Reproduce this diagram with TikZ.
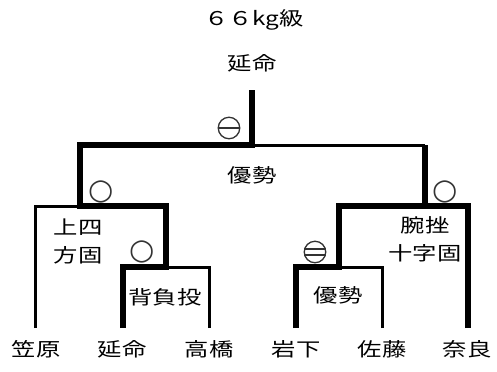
\documentclass[tikz,border=0pt]{standalone}
\usepackage{fontspec}
\newfontfamily\jp[FakeStretch=1.28]{Noto Sans CJK JP}
\newfontfamily\sym{DejaVu Sans}
\begin{document}
\begin{tikzpicture}[x=1bp,y=-1bp,
  thinline/.style={line width=3bp},
  thickline/.style={line width=6.5bp},
  lbl/.style={font=\jp\fontsize{19bp}{28bp}\selectfont, inner sep=0pt, align=center},
  mk/.style={font=\sym\fontsize{29bp}{29bp}\selectfont, inner sep=0pt, text=black!80},
  ring/.style={circle, draw=black!80, line width=1.3bp, minimum size=21.5bp, inner sep=0pt},
  bar/.style={draw=black!80, line width=1.3bp}]
\useasboundingbox (0,0) rectangle (497,371);
% bracket points
\coordinate (b1) at (35,328);
\coordinate (b2) at (123,328);
\coordinate (b3) at (209,328);
\coordinate (b4) at (296,328);
\coordinate (b5) at (382,328);
\coordinate (b6) at (468,328);
\coordinate (m1) at (166,267);
\coordinate (m2) at (339,267);
\coordinate (s1) at (80,206);
\coordinate (s2) at (425,206);
\coordinate (f) at (252,145);
\coordinate (f2) at (425,145);
\coordinate (champ) at (252,90);
% thin lines
\draw[thinline] (b1) |- (s1);
\draw[thinline] (b3) |- (m1);
\draw[thinline] (b5) |- (m2);
\draw[thinline] (f) -- (f2);
% thick lines
\draw[thickline] (b2) |- (m1) |- (s1) |- (f) -- (champ);
\draw[thickline] (b4) |- (m2) |- (s2);
\draw[thickline] (b6) |- (s2) -- (f2);
% names
\node[lbl] (n1) at (36,349) {笠原};
\node[lbl] (n2) at (122,349) {延命};
\node[lbl] (n3) at (209,349) {高橋};
\node[lbl] (n4) at (296,349) {岩下};
\node[lbl] (n5) at (382,349) {佐藤};
\node[lbl] (n6) at (467,349) {奈良};
% titles
\node[lbl] (title) at (254,20) {６６kg級};
\node[lbl] (win) at (252,63) {延命};
% results
\node[lbl] (r0) at (252,175) {優勢};
\node[lbl] (r1) at (78,241) {上四\\方固};
\node[lbl] (r2) at (165,297) {背負投};
\node[lbl] (r3) at (425,239) {腕挫\\十字固};
\node[lbl] (r4) at (338,295) {優勢};
% marks
\node[ring] (k0) at (229,128) {};
\draw[bar] (k0.west) -- (k0.east);
\node[mk] (k1) at (101,192) {○};
\node[mk] (k2) at (142,252) {○};
\node[mk] (k3) at (445,192) {○};
\node[ring] (k4) at (315,252) {};
\draw[bar] (k4.165) -- (k4.15);
\draw[bar] (k4.-165) -- (k4.-15);
\end{tikzpicture}
\end{document}
